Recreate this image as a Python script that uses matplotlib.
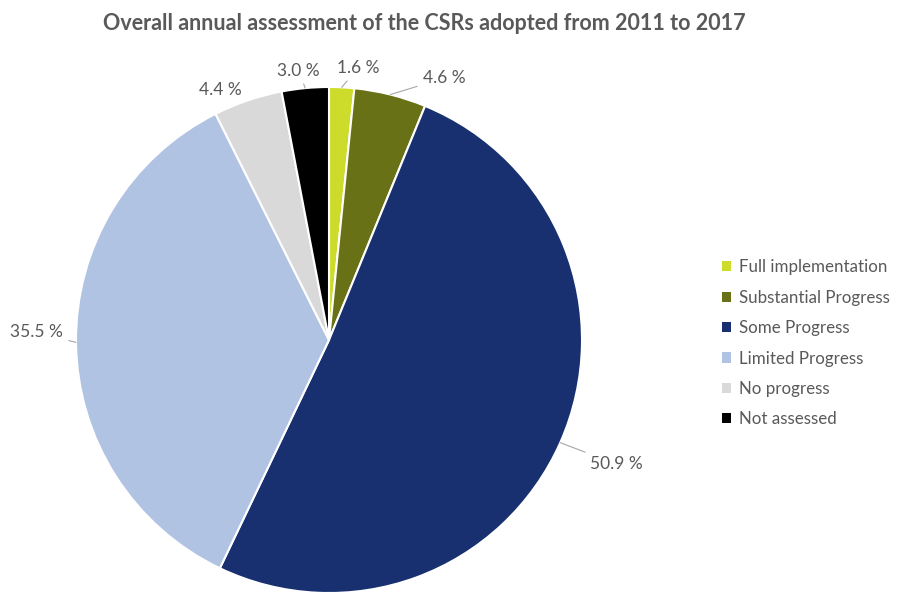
import matplotlib.pyplot as plt
import numpy as np
from matplotlib.patches import Patch

plt.rcParams['font.family'] = ['Lato', 'DejaVu Sans']

categorias = ["Full implementation", "Substantial Progress", "Some Progress",
              "Limited Progress", "No progress", "Not assessed"]
porcentajes = [1.6, 4.6, 50.9, 35.5, 4.4, 3.0]
colores = ["#cddc2a", "#687115", "#183070", "#b0c3e3", "#d9d9d9", "#000000"]

# posiciones de las etiquetas (texto) y si llevan linea guia
pos_texto = [(0.115, 1.075), (0.37, 1.035), (1.03, -0.49),
             (-1.05, 0.03), (-0.43, 0.99), (-0.12, 1.065)]
alineacion = ["center", "left", "left", "right", "center", "center"]
con_linea = [True, True, True, True, False, True]

gris = "#595959"

fig = plt.figure(figsize=(9, 5.92), dpi=100)
ax = fig.add_axes([76 / 900, -1 / 592, 506 / 900, 506 / 592])

wedges, _ = ax.pie(porcentajes, colors=colores, startangle=90, counterclock=False,
                   radius=1, wedgeprops=dict(edgecolor="white", linewidth=1.5))
ax.set_xlim(-1, 1)
ax.set_ylim(-1, 1)
ax.set_aspect("equal")
ax.axis("off")

for w, p, xyt, ha, linea in zip(wedges, porcentajes, pos_texto, alineacion, con_linea):
    ang = np.deg2rad((w.theta1 + w.theta2) / 2)
    borde = (np.cos(ang), np.sin(ang))
    props = None
    if linea:
        props = dict(arrowstyle="-", color="#a6a6a6", lw=0.8, shrinkA=2, shrinkB=0)
    ax.annotate(f"{p:.1f} %", xy=borde, xytext=xyt, ha=ha, va="center",
                fontsize=12.5, color=gris, arrowprops=props, annotation_clip=False)

fig.text(0.472, 0.96, "Overall annual assessment of the CSRs adopted from 2011 to 2017",
         ha="center", va="center", fontsize=15.5, fontweight="bold", color=gris)

handles = [Patch(facecolor=c, edgecolor="none") for c in colores]
fig.legend(handles, categorias, loc="center left", bbox_to_anchor=(0.785, 0.42),
           frameon=False, fontsize=12.2, labelcolor=gris, handlelength=0.55,
           handleheight=0.55, handletextpad=0.45, labelspacing=0.85)

fig.savefig("out.png", dpi=100)
